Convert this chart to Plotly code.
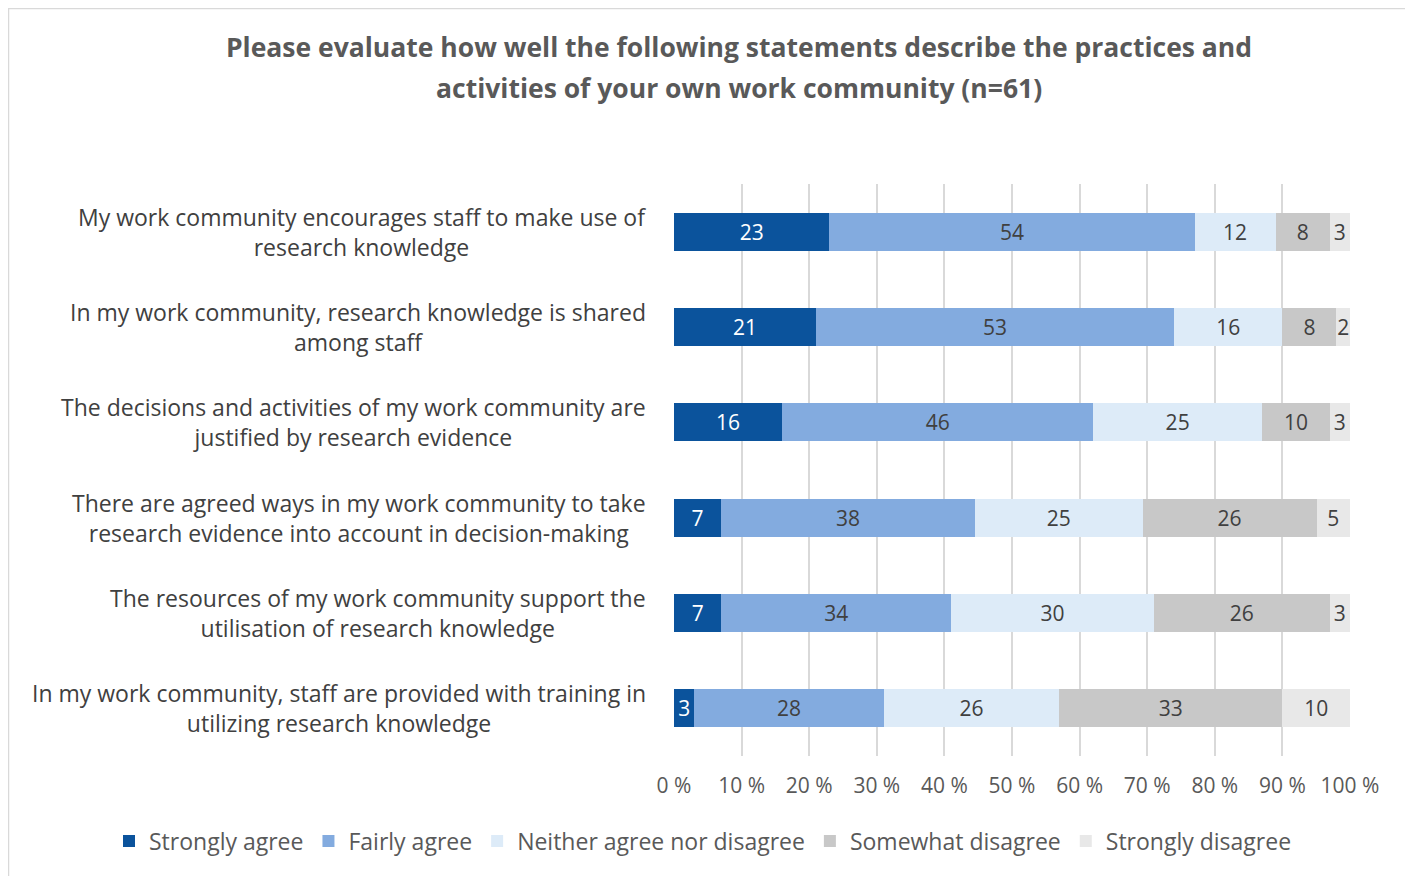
import plotly.graph_objects as go

# Survey statements, top to bottom as in the chart
statements = [
    "My work community encourages staff to make use of<br>research knowledge",
    "In my work community, research knowledge is shared<br>among staff",
    "The decisions and activities of my work community are<br>justified by research evidence",
    "There are agreed ways in my work community to take<br>research evidence into account in decision-making",
    "The resources of my work community support the<br>utilisation of research knowledge",
    "In my work community, staff are provided with training in<br>utilizing research knowledge",
]
row_ids = ["s1", "s2", "s3", "s4", "s5", "s6"]

# Percent shares per answer option
strongly_agree = [23, 21, 16, 7, 7, 3]
fairly_agree = [54, 53, 46, 38, 34, 28]
neither = [12, 16, 25, 25, 30, 26]
somewhat_disagree = [8, 8, 10, 26, 26, 33]
strongly_disagree = [3, 2, 3, 5, 3, 10]

tick_vals = [0, 10, 20, 30, 40, 50, 60, 70, 80, 90, 100]
tick_text = ["0 %", "10 %", "20 %", "30 %", "40 %", "50 %",
             "60 %", "70 %", "80 %", "90 %", "100 %"]

title_line1 = "Please evaluate how well the following statements describe the practices and"
title_line2 = "activities of your own work community (n=61)"

series = [
    ("Strongly agree", strongly_agree, "#0B539C", "white"),
    ("Fairly agree", fairly_agree, "#83ABDF", "#404040"),
    ("Neither agree nor disagree", neither, "#DDEBF8", "#404040"),
    ("Somewhat disagree", somewhat_disagree, "#C8C8C8", "#404040"),
    ("Strongly disagree", strongly_disagree, "#E8E8E8", "#404040"),
]

FONT = "Open Sans, sans-serif"

# page body has an 8px margin, so the figure is drawn 8px smaller
W, H = 1405, 868
L, T = 666, 176
PW, PH = 676, 572


def px_x(x):
    # figure pixel -> paper x
    return (x - L) / PW


def px_y(y):
    # figure pixel -> paper y
    return 1 + (T - y) / PH


fig = go.Figure()
for name, vals, color, txt_color in series:
    fig.add_trace(
        go.Bar(
            y=row_ids,
            x=vals,
            name=name,
            orientation="h",
            marker=dict(color=color, line=dict(width=0)),
            text=[str(v) for v in vals],
            textposition="inside",
            insidetextanchor="middle",
            textangle=0,
            textfont=dict(color=txt_color, size=21, family=FONT),
            width=0.4,
        )
    )

# category labels, centered blocks to the left of the plot
for rid, label in zip(row_ids, statements):
    fig.add_annotation(
        x=-26 / PW,
        xref="paper",
        y=rid,
        yref="y",
        text=label,
        showarrow=False,
        xanchor="right",
        align="center",
        font=dict(size=23, color="#404040", family=FONT),
    )

# second title line, placed separately to get the wider line spacing
fig.add_annotation(
    x=px_x(731),
    xref="paper",
    y=px_y(80),
    yref="paper",
    text="<b>" + title_line2 + "</b>",
    showarrow=False,
    xanchor="center",
    yanchor="middle",
    font=dict(size=26.5, color="#595959", family=FONT),
)

# outer chart frame
fig.add_shape(
    type="rect",
    xref="paper",
    yref="paper",
    x0=px_x(0.5),
    x1=px_x(1402),
    y0=px_y(H + 20),
    y1=px_y(0.5),
    line=dict(color="#D9D9D9", width=1.5),
    fillcolor="rgba(0,0,0,0)",
    layer="above",
)

fig.update_layout(
    barmode="stack",
    barnorm="percent",
    width=W,
    height=H,
    margin=dict(l=L, r=W - L - PW, t=T, b=H - T - PH, autoexpand=False),
    paper_bgcolor="white",
    plot_bgcolor="white",
    font=dict(family=FONT, color="#404040"),
    title=dict(
        text="<b>" + title_line1 + "</b>",
        x=731 / W,
        xanchor="center",
        y=1 - 40 / H,
        yanchor="middle",
        font=dict(size=26.5, color="#595959", family=FONT),
    ),
    xaxis=dict(
        range=[0, 100],
        tickvals=tick_vals,
        ticktext=tick_text,
        showgrid=True,
        gridcolor="#D9D9D9",
        gridwidth=1.5,
        zeroline=False,
        showline=False,
        tickfont=dict(size=21, color="#595959"),
        ticks="",
        ticklabelstandoff=15,
    ),
    yaxis=dict(
        categoryorder="array",
        categoryarray=row_ids,
        autorange="reversed",
        showticklabels=False,
        showgrid=False,
        zeroline=False,
    ),
    legend=dict(
        orientation="h",
        x=px_x(101),
        xanchor="left",
        y=px_y(833),
        yanchor="middle",
        font=dict(size=23, color="#595959"),
        traceorder="normal",
    ),
    uniformtext=dict(minsize=20, mode="show"),
    bargap=0.6,
)

fig.write_html("out.html")
